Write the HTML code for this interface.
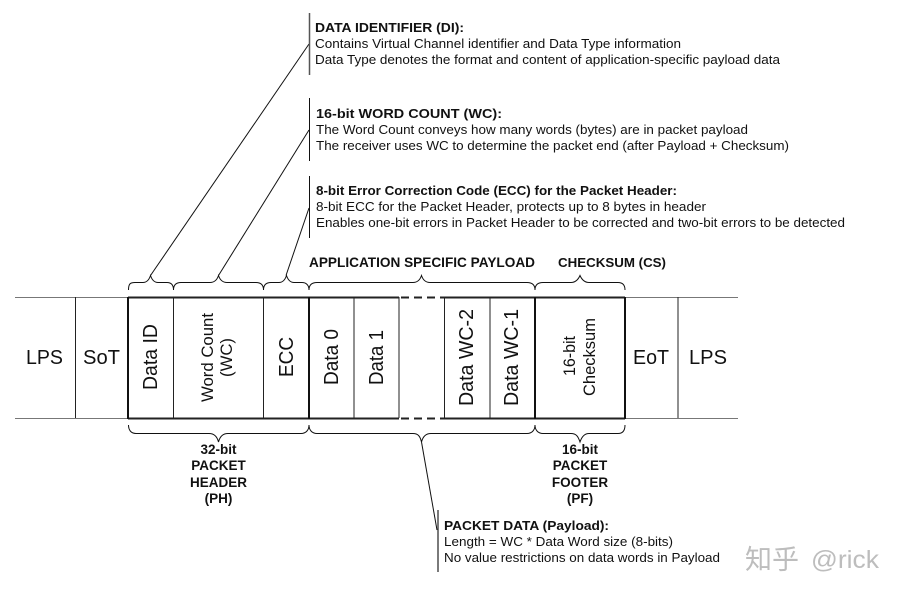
<!DOCTYPE html>
<html><head><meta charset="utf-8">
<style>
html,body{margin:0;padding:0;background:#fff;width:902px;height:596px;overflow:hidden}
svg{display:block}
text{font-family:"Liberation Sans","Noto Sans CJK SC",sans-serif;fill:#111}
.b{font-weight:bold}
.l{fill:none;stroke:#111;stroke-width:1}
</style></head><body>
<svg width="902" height="596" viewBox="0 0 902 596" xmlns="http://www.w3.org/2000/svg">
<rect width="902" height="596" fill="#fff"/>
<!-- rails -->
<path d="M15 297.5H128M625 297.5H738M15 418.5H128M625 418.5H738" stroke="#777" stroke-width="1" fill="none"/>
<path d="M128 297.5H399M444 297.5H625M128 418.5H399M444 418.5H625" stroke="#222" stroke-width="2" fill="none"/>
<path d="M399 297.5H444M399 418.5H444" stroke="#222" stroke-width="2" stroke-dasharray="8 5" stroke-dashoffset="-2" fill="none"/>
<!-- cell dividers -->
<path d="M75.5 297V418M173.5 297V418M263.5 297V418M354 297V418M399 297V418M444.5 297V418M490 297V418M678 297V418" stroke="#222" stroke-width="1" fill="none"/>
<path d="M128 297V419M309 297V419M535 297V419M625 297V419" stroke="#111" stroke-width="2" fill="none"/>
<!-- top braces -->
<g class="l">
<path d="M128.500 290C128.500 284 130 282.500 135 282.500H143C147 282.500 149 280 150.500 275.500C152 280 154 282.500 158 282.500H167C171 282.500 173.500 285 173.500 290"/>
<path d="M173.500 290C173.500 285 176 282.500 181 282.500H210C214 282.500 217 280 218.500 275.500C220 280 223 282.500 227 282.500H256C261 282.500 263.500 285 263.500 290"/>
<path d="M263.500 290C263.500 285 266 282.500 271 282.500H279C283 282.500 285 280 286.500 275.500C288 280 290 282.500 294 282.500H302C306 282.500 309 285 309 290"/>
<path d="M309 290C309 285 312 282.500 317 282.500H413C417 282.500 420 280 421.500 275.500C423 280 426 282.500 430 282.500H527C532 282.500 535 285 535 290"/>
<path d="M535 290C535 285 538 282.500 543 282.500H571C575 282.500 578 280 580 275.500C582 280 585 282.500 589 282.500H618C623 282.500 625 285 625 290"/>
</g>
<!-- bottom braces -->
<g class="l">
<path d="M128.500 425C128.500 430 131 433.500 136 433.500H209C214 433.500 217 436 218.500 442C220 436 223 433.500 228 433.500H301C306 433.500 309 430 309 425"/>
<path d="M309 425C309 430 312 433.500 317 433.500H413C418 433.500 420 436 421.500 442C423 436 426 433.500 431 433.500H527C532 433.500 535 430 535 425"/>
<path d="M535 425C535 430 538 433.500 543 433.500H571C576 433.500 578 436 580 442C582 436 585 433.500 589 433.500H618C623 433.500 625 430 625 425"/>
</g>
<!-- leaders -->
<g class="l">
<path d="M150.500 275.500L309 44"/>
<path d="M218.500 275.500L309 130"/>
<path d="M286 275.500L309 208"/>
<path d="M421.500 442L437 530"/>
</g>
<!-- callout bars -->
<path d="M309.500 13V75" stroke="#555" stroke-width="1.500"/>
<path d="M309.500 98V161M309.500 176V238" stroke="#111" stroke-width="1"/>
<path d="M438 510V572" stroke="#333" stroke-width="1.300"/>
<!-- callout text -->
<text class="b" x="315" y="32" font-size="12.500" textLength="149" lengthAdjust="spacingAndGlyphs">DATA IDENTIFIER (DI):</text>
<text x="315" y="48" font-size="12.500" textLength="366" lengthAdjust="spacingAndGlyphs">Contains Virtual Channel identifier and Data Type information</text>
<text x="315" y="64" font-size="12.500" textLength="465" lengthAdjust="spacingAndGlyphs">Data Type denotes the format and content of application-specific payload data</text>
<text class="b" x="316" y="118" font-size="13" textLength="186" lengthAdjust="spacingAndGlyphs">16-bit WORD COUNT (WC):</text>
<text x="316" y="134" font-size="13" textLength="432" lengthAdjust="spacingAndGlyphs">The Word Count conveys how many words (bytes) are in packet payload</text>
<text x="316" y="150" font-size="13" textLength="473" lengthAdjust="spacingAndGlyphs">The receiver uses WC to determine the packet end (after Payload + Checksum)</text>
<text class="b" x="316" y="195" font-size="13" textLength="361" lengthAdjust="spacingAndGlyphs">8-bit Error Correction Code (ECC) for the Packet Header:</text>
<text x="316" y="211" font-size="13" textLength="390" lengthAdjust="spacingAndGlyphs">8-bit ECC for the Packet Header, protects up to 8 bytes in header</text>
<text x="316" y="227" font-size="13" textLength="529" lengthAdjust="spacingAndGlyphs">Enables one-bit errors in Packet Header to be corrected and two-bit errors to be detected</text>
<text class="b" x="444" y="530" font-size="12.500" textLength="165" lengthAdjust="spacingAndGlyphs">PACKET DATA (Payload):</text>
<text x="444" y="546" font-size="12.500" textLength="229" lengthAdjust="spacingAndGlyphs">Length = WC * Data Word size (8-bits)</text>
<text x="444" y="562" font-size="12.500" textLength="276" lengthAdjust="spacingAndGlyphs">No value restrictions on data words in Payload</text>
<!-- headings -->
<text class="b" x="309" y="267" font-size="14" textLength="226" lengthAdjust="spacingAndGlyphs">APPLICATION SPECIFIC PAYLOAD</text>
<text class="b" x="558" y="267" font-size="12.500" textLength="108" lengthAdjust="spacingAndGlyphs">CHECKSUM (CS)</text>
<!-- horizontal cell labels -->
<text x="26" y="364" font-size="20" textLength="37" lengthAdjust="spacingAndGlyphs">LPS</text>
<text x="83" y="364" font-size="20" textLength="37" lengthAdjust="spacingAndGlyphs">SoT</text>
<text x="633" y="364" font-size="20" textLength="36" lengthAdjust="spacingAndGlyphs">EoT</text>
<text x="689" y="364" font-size="20" textLength="38" lengthAdjust="spacingAndGlyphs">LPS</text>
<!-- rotated labels -->
<text transform="translate(157 390) rotate(-90)" font-size="20" textLength="66" lengthAdjust="spacingAndGlyphs">Data ID</text>
<text transform="translate(213 402) rotate(-90)" font-size="17" textLength="89" lengthAdjust="spacingAndGlyphs">Word Count</text>
<text transform="translate(232 377) rotate(-90)" font-size="17" textLength="39" lengthAdjust="spacingAndGlyphs">(WC)</text>
<text transform="translate(293 377) rotate(-90)" font-size="20" textLength="40" lengthAdjust="spacingAndGlyphs">ECC</text>
<text transform="translate(338 385) rotate(-90)" font-size="20" textLength="56" lengthAdjust="spacingAndGlyphs">Data 0</text>
<text transform="translate(383 385) rotate(-90)" font-size="20" textLength="55" lengthAdjust="spacingAndGlyphs">Data 1</text>
<text transform="translate(473 406) rotate(-90)" font-size="20" textLength="97" lengthAdjust="spacingAndGlyphs">Data WC-2</text>
<text transform="translate(518 406) rotate(-90)" font-size="20" textLength="97" lengthAdjust="spacingAndGlyphs">Data WC-1</text>
<text transform="translate(575 376) rotate(-90)" font-size="16.500" textLength="40" lengthAdjust="spacingAndGlyphs">16-bit</text>
<text transform="translate(595 396) rotate(-90)" font-size="16.500" textLength="78" lengthAdjust="spacingAndGlyphs">Checksum</text>
<!-- brace captions -->
<g font-size="13.500" text-anchor="middle">
<text class="b" x="218.500" y="454">32-bit</text>
<text class="b" x="218.500" y="470">PACKET</text>
<text class="b" x="218.500" y="487">HEADER</text>
<text class="b" x="218.500" y="503">(PH)</text>
<text class="b" x="580" y="454">16-bit</text>
<text class="b" x="580" y="470">PACKET</text>
<text class="b" x="580" y="487">FOOTER</text>
<text class="b" x="580" y="503">(PF)</text>
</g>
<!-- watermark -->
<text x="745" y="569" font-size="27" style="fill:#bdbdbd">知乎</text>
<text x="811" y="568" font-size="25" style="fill:#bdbdbd" textLength="68" lengthAdjust="spacingAndGlyphs">@rick</text>
</svg>
</body></html>
